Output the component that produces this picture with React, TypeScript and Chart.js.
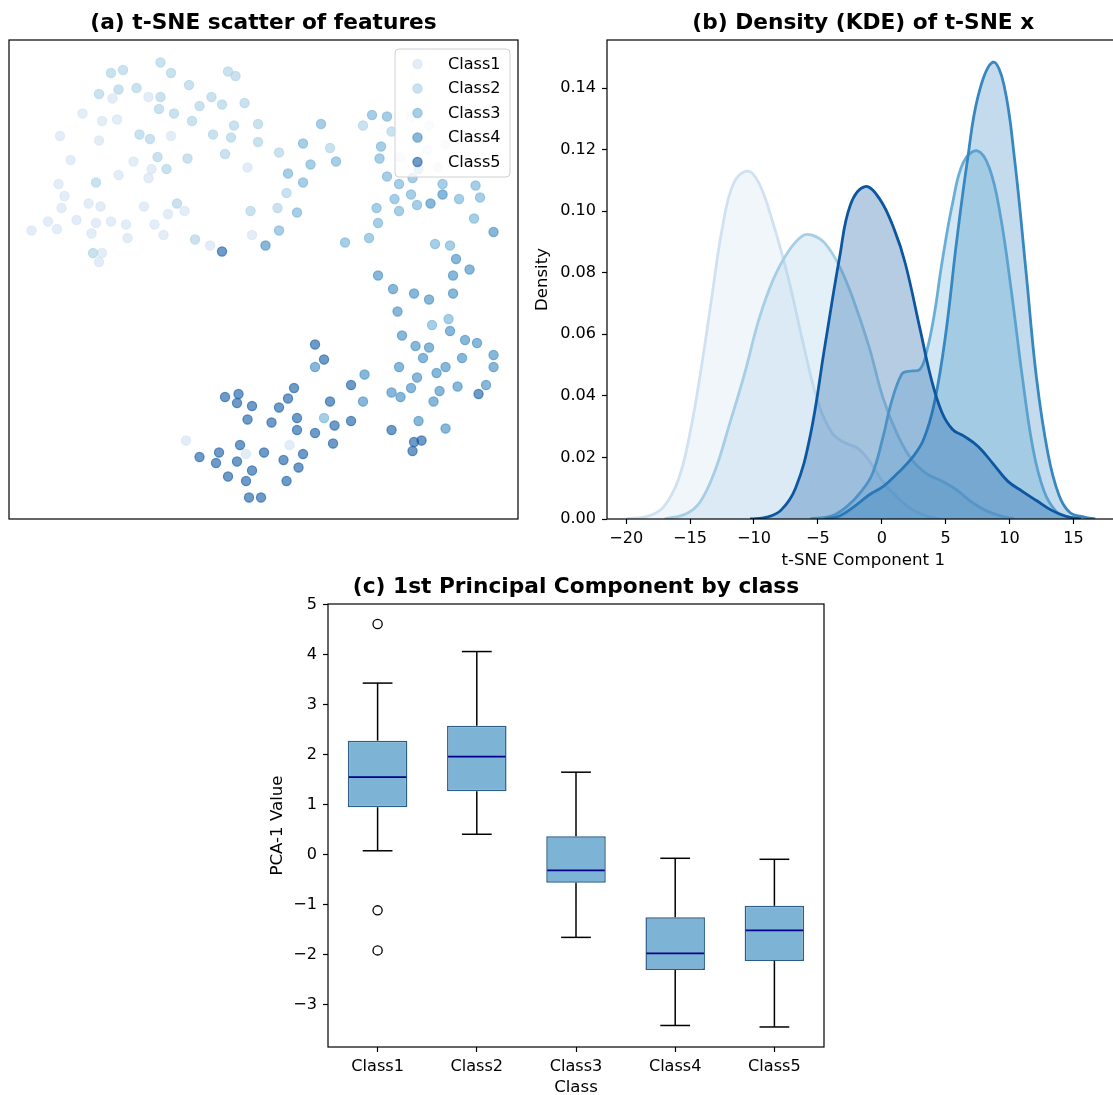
import React, { useEffect, useRef } from 'react';
import { Chart, registerables } from 'chart.js';

Chart.register(...registerables);
Chart.defaults.font.family = '"DejaVu Sans", sans-serif';
Chart.defaults.color = '#000';

// ---------------- data ----------------
const CLASS_NAMES = ['Class1', 'Class2', 'Class3', 'Class4', 'Class5'];
const PALETTE = ['#d0e1f2', '#a6cee4', '#6aaed6', '#3787c0', '#0d57a1'];

// (a) t-SNE scatter points [x, y]
const class1Points = [
  [-11.5, 12.1], [-9.1, 12.2], [-13.5, 11.1], [-12.2, 10.6], [-11.2, 10.7], [-15.0, 9.6], [-12.4, 9.3], [-7.6, 9.6],
  [-14.3, 8.0], [-10.1, 7.9], [-8.9, 7.4], [-2.5, 7.5], [-11.1, 7.0], [-9.1, 6.8], [-15.1, 6.4], [-14.7, 5.6],
  [-14.9, 4.8], [-13.1, 5.1], [-12.3, 4.9], [-9.4, 4.9], [-7.8, 4.4], [-6.7, 4.6], [-15.8, 3.9], [-16.9, 3.3],
  [-15.2, 3.4], [-13.9, 4.0], [-12.6, 3.8], [-11.6, 3.9], [-10.6, 3.7], [-8.7, 3.7], [-12.9, 3.1], [-10.5, 2.8],
  [-8.1, 3.0], [-2.2, 3.0], [-5.0, 2.3], [-12.2, 1.8], [-12.4, 1.2], [-6.6, -10.7], [-2.6, -11.6], [0.3, -11.0],
  [8.4, 10.9], [9.6, 10.3], [10.7, 9.0], [9.5, 8.7], [7.7, 8.2], [10.2, 7.5],
];
const class2Points = [
  [-8.3, 14.5], [-10.8, 14.0], [-11.6, 13.8], [-7.6, 13.8], [-3.8, 13.9], [-3.3, 13.6], [-6.4, 13.0], [-12.4, 12.4],
  [-11.1, 12.7], [-9.9, 12.8], [-8.3, 12.2], [-4.9, 12.2], [-5.7, 11.6], [-4.2, 11.7], [-2.7, 11.8], [-8.4, 11.4],
  [-7.4, 11.1], [-6.2, 10.6], [-3.4, 10.3], [-1.8, 10.4], [-9.7, 9.7], [-9.0, 9.4], [-4.8, 9.7], [-3.6, 9.5],
  [-1.8, 9.2], [-8.5, 8.2], [-6.5, 8.1], [-4.0, 8.4], [-7.9, 7.4], [-12.6, 6.5], [-7.2, 5.1], [-2.3, 4.6],
  [-6.0, 2.7], [-12.8, 1.8], [5.2, 10.3], [7.1, 9.9], [-0.4, 8.5], [3.0, 8.8], [0.1, 5.8], [-0.5, 4.8],
];
const class3Points = [
  [2.4, 10.4], [5.8, 11.0], [6.8, 10.9], [1.2, 9.1], [6.4, 8.9], [6.3, 8.1], [3.4, 7.9], [1.7, 7.7],
  [0.2, 7.1], [1.2, 6.5], [0.8, 4.5], [-0.4, 3.3], [4.0, 2.5], [5.6, 2.8], [6.2, 3.8], [6.1, 4.8],
  [6.8, 6.9], [7.6, 6.4], [8.5, 6.8], [7.3, 5.4], [8.4, 5.7], [8.8, 5.0], [7.6, 4.6], [10.0, 2.4],
  [11.0, 2.3], [12.6, 4.1], [13.0, 5.5], [12.7, 6.3], [11.6, 5.4], [10.5, 6.4], [8.9, 7.4], [9.8, -3.0],
  [10.9, -2.6], [2.6, -9.2],
];
const class4Points = [
  [9.7, 5.1], [10.5, 5.7], [13.9, 3.2], [11.4, 1.4], [12.3, 0.7], [6.2, 0.3], [11.2, 0.3], [-1.3, 2.3],
  [7.2, -0.6], [8.6, -0.9], [9.6, -1.3], [11.2, -0.9], [7.5, -2.1], [11.0, -3.4], [7.8, -3.7], [8.7, -4.4],
  [9.6, -4.5], [12.0, -4.0], [12.8, -4.2], [13.9, -5.0], [13.9, -5.8], [9.2, -5.2], [11.8, -5.2], [10.7, -5.8],
  [10.1, -6.2], [7.6, -5.8], [8.8, -6.5], [8.4, -7.2], [7.1, -7.5], [7.7, -7.8], [10.3, -7.4], [11.5, -7.1],
  [13.4, -7.0], [9.9, -8.1], [8.9, -9.4], [10.7, -9.9], [5.3, -6.3], [5.2, -8.1], [2.0, -5.8],
];
const class5Points = [
  [-4.0, -7.8], [-3.1, -7.6], [-3.2, -8.2], [-2.2, -8.4], [-2.5, -9.3], [-3.0, -11.0], [-4.4, -11.5], [-5.7, -11.8],
  [-4.6, -12.2], [-3.2, -12.1], [-2.2, -12.7], [-3.8, -13.1], [-2.6, -13.4], [-2.4, -14.5], [-1.6, -14.5], [-1.4, -11.5],
  [2.0, -4.3], [2.6, -5.3], [4.4, -7.0], [3.0, -8.1], [4.4, -9.4], [3.3, -9.7], [3.2, -10.9], [2.0, -10.2],
  [0.8, -9.2], [0.8, -10.0], [1.2, -11.6], [-0.1, -12.0], [0.9, -12.5], [0.1, -13.4], [0.6, -7.2], [0.2, -7.9],
  [-0.4, -8.5], [-0.9, -9.5], [12.9, -7.6], [7.1, -10.0], [8.6, -10.8], [9.1, -10.7], [8.5, -11.4], [-4.2, 1.9],
];

// (b) KDE curves
const kdeX1 = [-20, -18.2, -17.05, -15.9, -15.05, -14.2, -13.3, -12.5, -11.6, -10.5, -9.6, -8.5, -7.3, -6.2, -5.0, -3.9, -3.0, -1.9, -1.0, 0.1, 1.3, 2.4, 3.5, 4.5];
const kdeY1 = [0, 0.001, 0.004, 0.013, 0.027, 0.047, 0.072, 0.094, 0.109, 0.113, 0.109, 0.096, 0.078, 0.058, 0.038, 0.028, 0.025, 0.023, 0.019, 0.012, 0.0067, 0.003, 0.001, 0];
const kdeX2 = [-17.0, -15.3, -14.2, -13.05, -11.9, -10.75, -9.6, -8.47, -7.3, -6.2, -5.46, -4.46, -3.3, -2.17, -1.0, 0.12, 1.27, 2.4, 3.55, 4.7, 5.84, 7.0, 8.1, 9.3, 10.4];
const kdeY2 = [0, 0.0017, 0.0056, 0.0157, 0.031, 0.047, 0.065, 0.078, 0.087, 0.092, 0.0922, 0.0896, 0.082, 0.0706, 0.056, 0.039, 0.027, 0.019, 0.0146, 0.0123, 0.0095, 0.0056, 0.0028, 0.001, 0];
const kdeX3 = [-5.6, -3.9, -2.74, -1.6, -0.74, 0.12, 0.69, 1.55, 2.12, 3.0, 3.55, 4.13, 4.7, 5.56, 6.4, 7.48, 8.42, 9.28, 10.14, 11.0, 11.85, 12.7, 13.57, 14.4, 15.5];
const kdeY3 = [0, 0.001, 0.004, 0.009, 0.0146, 0.027, 0.037, 0.047, 0.048, 0.0487, 0.055, 0.067, 0.083, 0.103, 0.116, 0.1196, 0.114, 0.0986, 0.074, 0.046, 0.0224, 0.009, 0.0028, 0.0009, 0];
const kdeX4 = [-4.5, -3.3, -2.17, -1.0, 0.12, 1.27, 2.4, 3.27, 4.13, 5.0, 5.84, 6.7, 7.56, 8.7, 9.56, 10.4, 11.28, 12.1, 13.0, 13.86, 14.7, 15.86, 16.7];
const kdeY4 = [0, 0.001, 0.004, 0.0078, 0.0106, 0.015, 0.02, 0.0258, 0.038, 0.06, 0.0896, 0.1165, 0.1378, 0.1484, 0.141, 0.1165, 0.0806, 0.046, 0.0213, 0.0078, 0.0022, 0.0006, 0];
const kdeX5 = [-10.3, -9.0, -7.9, -6.75, -5.6, -4.46, -3.3, -2.46, -1.31, -0.17, 0.98, 1.84, 3.0, 3.84, 4.7, 5.56, 6.4, 7.56, 8.7, 9.85, 11.0, 12.1, 13.3, 14.4, 15.6];
const kdeY5 = [0, 0.0006, 0.0028, 0.01, 0.027, 0.056, 0.085, 0.102, 0.108, 0.104, 0.094, 0.083, 0.0616, 0.046, 0.0347, 0.029, 0.027, 0.0235, 0.018, 0.0123, 0.009, 0.006, 0.0028, 0.0009, 0];
const kdeXTicks = [-20, -15, -10, -5, 0, 5, 10, 15];
const kdeYTicks = [0, 0.02, 0.04, 0.06, 0.08, 0.1, 0.12, 0.14];

// (c) box plot statistics
const whiskerLow = [0.08, 0.41, -1.65, -3.41, -3.44];
const quartile1 = [0.95, 1.27, -0.56, -2.3, -2.12];
const medians = [1.55, 1.96, -0.31, -1.97, -1.51];
const quartile3 = [2.28, 2.58, 0.37, -1.25, -1.02];
const whiskerHigh = [3.43, 4.06, 1.65, -0.07, -0.09];
const outlierClass = ['Class1', 'Class1', 'Class1'];
const outlierValue = [4.61, -1.11, -1.91];
const boxYTicks = [-3, -2, -1, 0, 1, 2, 3, 4, 5];

// ---------------- helpers ----------------
const scatterSeries = [class1Points, class2Points, class3Points, class4Points, class5Points];
const kdeSeries = [
  [kdeX1, kdeY1], [kdeX2, kdeY2], [kdeX3, kdeY3], [kdeX4, kdeY4], [kdeX5, kdeY5],
];

function rgba(hex: string, a: number) {
  const n = parseInt(hex.slice(1), 16);
  return `rgba(${(n >> 16) & 255},${(n >> 8) & 255},${n & 255},${a})`;
}
function fmt(v: number, d: number) {
  const s = Math.abs(v).toFixed(d);
  return v < 0 && Math.abs(v) > 1e-9 ? '\u2212' + s : s;
}

const TICK_FONT = { size: 16.1 };
const LABEL_FONT = { size: 16.6 };

const framePlugin = {
  id: 'frame',
  afterDatasetsDraw(chart: any) {
    const { ctx, chartArea: a } = chart;
    ctx.save();
    ctx.strokeStyle = '#000';
    ctx.lineWidth = 1.2;
    ctx.strokeRect(a.left, a.top, a.right - a.left, a.bottom - a.top);
    ctx.restore();
  },
};

function makeTitle(text: string) {
  return {
    id: 'panelTitle',
    afterDraw(chart: any) {
      const { ctx, chartArea: a } = chart;
      ctx.save();
      ctx.font = 'bold 21.7px "DejaVu Sans"';
      ctx.fillStyle = '#000';
      ctx.textAlign = 'center';
      ctx.textBaseline = 'alphabetic';
      ctx.fillText(text, (a.left + a.right) / 2, a.top - 11);
      ctx.restore();
    },
  };
}

const scatterLegend = {
  id: 'scatterLegend',
  afterDraw(chart: any) {
    const { ctx, chartArea: a } = chart;
    const w = 115, h = 128;
    const x0 = a.right - 8 - w;
    const y0 = a.top + 9;
    ctx.save();
    ctx.beginPath();
    if ((ctx as any).roundRect) (ctx as any).roundRect(x0, y0, w, h, 4);
    else ctx.rect(x0, y0, w, h);
    ctx.fillStyle = 'rgba(255,255,255,0.8)';
    ctx.fill();
    ctx.strokeStyle = '#d0d0d0';
    ctx.lineWidth = 1;
    ctx.stroke();
    ctx.font = '16.1px "DejaVu Sans"';
    ctx.textAlign = 'left';
    ctx.textBaseline = 'middle';
    CLASS_NAMES.forEach((name, i) => {
      const cy = y0 + 15 + i * 24.5;
      ctx.beginPath();
      ctx.arc(x0 + 22.5, cy, 4.6, 0, Math.PI * 2);
      ctx.fillStyle = rgba(PALETTE[i], 0.6);
      ctx.fill();
      ctx.strokeStyle = rgba(PALETTE[i], 0.6);
      ctx.lineWidth = 1.2;
      ctx.stroke();
      ctx.fillStyle = '#000';
      ctx.fillText(name, x0 + 53, cy + 0.5);
    });
    ctx.restore();
  },
};

const boxParts = {
  id: 'boxParts',
  afterDatasetsDraw(chart: any) {
    const { ctx } = chart;
    const xs = chart.scales.x;
    const ys = chart.scales.y;
    const step = xs.getPixelForValue(1) - xs.getPixelForValue(0);
    ctx.save();
    ctx.lineCap = 'butt';
    CLASS_NAMES.forEach((_, i) => {
      const cx = xs.getPixelForValue(i);
      const line = (x1: number, y1: number, x2: number, y2: number) => {
        ctx.beginPath();
        ctx.moveTo(x1, y1);
        ctx.lineTo(x2, y2);
        ctx.stroke();
      };
      ctx.strokeStyle = '#000';
      ctx.lineWidth = 1.5;
      line(cx, ys.getPixelForValue(quartile3[i]), cx, ys.getPixelForValue(whiskerHigh[i]));
      line(cx, ys.getPixelForValue(quartile1[i]), cx, ys.getPixelForValue(whiskerLow[i]));
      const capH = ys.getPixelForValue(whiskerHigh[i]);
      const capL = ys.getPixelForValue(whiskerLow[i]);
      line(cx - step * 0.15, capH, cx + step * 0.15, capH);
      line(cx - step * 0.15, capL, cx + step * 0.15, capL);
      ctx.strokeStyle = '#00008b';
      ctx.lineWidth = 1.8;
      const my = ys.getPixelForValue(medians[i]);
      line(cx - step * 0.3 + 1, my, cx + step * 0.3 - 1, my);
    });
    ctx.restore();
  },
};

function useChart(ref: React.RefObject<HTMLCanvasElement>, make: () => any) {
  useEffect(() => {
    if (!ref.current) return;
    const chart = new Chart(ref.current, make());
    return () => chart.destroy();
  }, []);
}

const tickGrid = {
  drawOnChartArea: false,
  color: 'rgba(0,0,0,0)',
  tickColor: '#000',
  tickLength: 5,
  tickWidth: 1.2,
};

export default function App() {
  const refA = useRef<HTMLCanvasElement>(null);
  const refB = useRef<HTMLCanvasElement>(null);
  const refC = useRef<HTMLCanvasElement>(null);

  useChart(refA, () => ({
    type: 'scatter',
    data: {
      datasets: CLASS_NAMES.map((name, i) => ({
        label: name,
        data: scatterSeries[i].map(([x, y]) => ({ x, y })),
        backgroundColor: rgba(PALETTE[i], 0.6),
        borderColor: rgba(PALETTE[i], 0.6),
        borderWidth: 1.2,
        pointRadius: 4.6,
        order: 5 - i,
      })),
    },
    options: {
      responsive: false,
      animation: false,
      events: [],
      layout: { padding: { left: 9, top: 40, right: 12, bottom: 11 } },
      scales: {
        x: { type: 'linear', display: false, min: -18.4, max: 15.53 },
        y: { type: 'linear', display: false, min: -15.93, max: 16 },
      },
      plugins: { legend: { display: false }, tooltip: { enabled: false } },
    },
    plugins: [framePlugin, scatterLegend, makeTitle('(a) t-SNE scatter of features')],
  }));

  useChart(refB, () => ({
    type: 'line',
    data: {
      datasets: CLASS_NAMES.map((name, i) => ({
        label: name,
        data: kdeSeries[i][0].map((x, j) => ({ x, y: kdeSeries[i][1][j] })),
        borderColor: PALETTE[i],
        backgroundColor: rgba(PALETTE[i], 0.3),
        borderWidth: 2.8,
        pointRadius: 0,
        fill: 'origin',
        tension: 0.4,
        order: 5 - i,
      })),
    },
    options: {
      responsive: false,
      animation: false,
      events: [],
      layout: { padding: { left: 0, top: 40, right: 30.5, bottom: 0 } },
      scales: {
        x: {
          type: 'linear',
          min: -21.5,
          max: 18.6,
          afterFit: (s: any) => { s.height = 56; },
          afterBuildTicks: (s: any) => { s.ticks = kdeXTicks.map((v) => ({ value: v })); },
          ticks: { font: TICK_FONT, padding: 5, maxRotation: 0, autoSkip: false, callback: (v: number) => fmt(v, 0) },
          grid: tickGrid,
          border: { display: false },
          title: { display: true, text: 't-SNE Component 1', font: LABEL_FONT, padding: { top: 0, bottom: 4 } },
        },
        y: {
          type: 'linear',
          min: 0,
          max: 0.1556,
          afterFit: (s: any) => { s.width = 77; },
          afterBuildTicks: (s: any) => { s.ticks = kdeYTicks.map((v) => ({ value: v })); },
          ticks: { font: TICK_FONT, padding: 6, autoSkip: false, callback: (v: number) => fmt(v, 2) },
          grid: tickGrid,
          border: { display: false },
          title: { display: true, text: 'Density', font: LABEL_FONT, padding: { top: 3, bottom: 0 } },
        },
      },
      plugins: { legend: { display: false }, tooltip: { enabled: false } },
    },
    plugins: [framePlugin, makeTitle('(b) Density (KDE) of t-SNE x')],
  }));

  useChart(refC, () => ({
    type: 'bar',
    data: {
      labels: CLASS_NAMES,
      datasets: [
        {
          type: 'bar',
          data: quartile1.map((q, i) => [q, quartile3[i]]),
          backgroundColor: '#7db4d6',
          borderColor: '#2c5d87',
          borderWidth: 1.5,
          borderSkipped: false,
          barPercentage: 0.6,
          categoryPercentage: 1,
          order: 2,
        },
        {
          type: 'scatter',
          data: outlierClass.map((c, i) => ({ x: c, y: outlierValue[i] })),
          backgroundColor: 'rgba(0,0,0,0)',
          borderColor: '#000',
          borderWidth: 1.3,
          pointRadius: 4.6,
          order: 1,
        },
      ],
    },
    options: {
      responsive: false,
      animation: false,
      events: [],
      layout: { padding: { left: 0, top: 34, right: 16, bottom: 0 } },
      scales: {
        x: {
          type: 'category',
          afterFit: (s: any) => { s.height = 48; },
          ticks: { font: TICK_FONT, padding: 5, maxRotation: 0, autoSkip: false },
          grid: { ...tickGrid, offset: false },
          border: { display: false },
          title: { display: true, text: 'Class', font: { ...LABEL_FONT, lineHeight: 0.85 }, padding: { top: 0, bottom: 0 } },
        },
        y: {
          type: 'linear',
          min: -3.84,
          max: 5.01,
          afterFit: (s: any) => { s.width = 68; },
          afterBuildTicks: (s: any) => { s.ticks = boxYTicks.map((v) => ({ value: v })); },
          ticks: { font: TICK_FONT, padding: 6, autoSkip: false, callback: (v: number) => fmt(v, 0) },
          grid: tickGrid,
          border: { display: false },
          title: { display: true, text: 'PCA-1 Value', font: LABEL_FONT, padding: { top: 8, bottom: 0 } },
        },
      },
      plugins: { legend: { display: false }, tooltip: { enabled: false } },
    },
    plugins: [boxParts, framePlugin, makeTitle('(c) 1st Principal Component by class')],
  }));

  return (
    <div
      style={{
        position: 'fixed', left: 0, top: 0, width: 1113, height: 1095,
        overflow: 'hidden', background: '#fff',
      }}
    >
      <canvas ref={refA} width={530} height={530} style={{ position: 'absolute', left: 0, top: 0, width: 530, height: 530 }} />
      <canvas ref={refB} width={620} height={575} style={{ position: 'absolute', left: 530, top: 0, width: 620, height: 575 }} />
      <canvas ref={refC} width={580} height={525} style={{ position: 'absolute', left: 260, top: 570, width: 580, height: 525 }} />
    </div>
  );
}
